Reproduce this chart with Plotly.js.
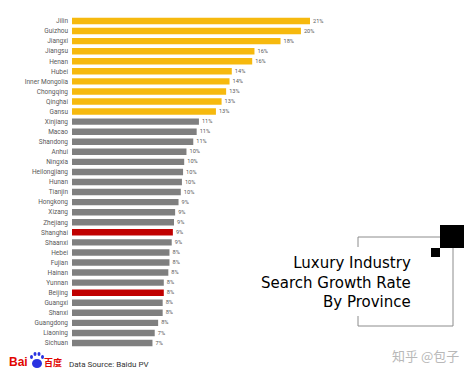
<!DOCTYPE html>
<html>
<head>
<meta charset="utf-8">
<script src="https://cdn.plot.ly/plotly-3.0.1.min.js"></script>
<style>html,body{margin:0;padding:0;background:#fff;}#chart{width:474px;height:374px;}</style>
</head>
<body>
<div id="chart"></div>
<script>
const provinces = ["Jilin","Guizhou","Jiangxi","Jiangsu","Henan","Hubei","Inner Mongolia","Chongqing","Qinghai","Gansu",
  "Xinjiang","Macao","Shandong","Anhui","Ningxia","Heilongjiang","Hunan","Tianjin","Hongkong","Xizang","Zhejiang",
  "Shanghai","Shaanxi","Hebei","Fujian","Hainan","Yunnan","Beijing","Guangxi","Shanxi","Guangdong","Liaoning","Sichuan"];
const growth = [21.0,20.2,18.4,16.1,15.9,14.1,13.9,13.6,13.2,12.7,
  11.2,11.0,10.7,10.1,9.9,9.8,9.7,9.6,9.4,9.1,9.0,
  8.9,8.8,8.6,8.6,8.5,8.1,8.1,8.0,8.0,7.6,7.3,7.1];
const labels = ["21%","20%","18%","16%","16%","14%","14%","13%","13%","13%",
  "11%","11%","11%","10%","10%","10%","10%","10%","9%","9%","9%",
  "9%","9%","8%","8%","8%","8%","8%","8%","8%","8%","7%","7%"];
const groups = ["top","top","top","top","top","top","top","top","top","top",
  "mid","mid","mid","mid","mid","mid","mid","mid","mid","mid","mid",
  "hl","mid","mid","mid","mid","mid","hl","mid","mid","mid","mid","mid"];
const titleLines = ["Luxury Industry","Search Growth Rate","By Province"];
const sourceText = "Data Source: Baidu PV";
const watermark = "知乎 @包子";

const colorMap = {top:"#F6B90E", mid:"#7F7F7F", hl:"#C00000"};

// plot area in pixels
const L = 72, R = 412, T = 16, B = 348;
const W = 474, H = 374;
const px = x => (x - L) / (R - L);
const py = y => (B - y) / (B - T);

const trace = {
  type: "bar",
  orientation: "h",
  y: provinces,
  x: growth,
  text: labels,
  textposition: "outside",
  cliponaxis: false,
  textfont: {family: "Roboto, sans-serif", size: 7, color: "#595959"},
  marker: {color: groups.map(g => colorMap[g])},
  hoverinfo: "skip"
};

const LC = "#8c8c8c";
const shapes = [
  // frame
  {type:"line", xref:"paper", yref:"paper", x0:px(358), x1:px(358), y0:py(237), y1:py(247), line:{color:LC, width:1}},
  {type:"line", xref:"paper", yref:"paper", x0:px(358), x1:px(358), y0:py(316), y1:py(326), line:{color:LC, width:1}},
  {type:"line", xref:"paper", yref:"paper", x0:px(358), x1:px(453), y0:py(326), y1:py(326), line:{color:LC, width:1}},
  {type:"line", xref:"paper", yref:"paper", x0:px(453), x1:px(453), y0:py(248), y1:py(326), line:{color:LC, width:1}},
  {type:"line", xref:"paper", yref:"paper", x0:px(358), x1:px(440), y0:py(237), y1:py(237), line:{color:LC, width:1}},
  // squares
  {type:"rect", xref:"paper", yref:"paper", x0:px(440), x1:px(464), y0:py(225), y1:py(248), fillcolor:"#000", line:{width:0}},
  {type:"rect", xref:"paper", yref:"paper", x0:px(431), x1:px(440), y0:py(248), y1:py(257), fillcolor:"#000", line:{width:0}},
  // baidu paw
  {type:"circle", xref:"paper", yref:"paper", x0:px(32), x1:px(42), y0:py(359), y1:py(368), fillcolor:"#2932E1", line:{width:0}},
  {type:"circle", xref:"paper", yref:"paper", x0:px(30), x1:px(33), y0:py(355), y1:py(359), fillcolor:"#2932E1", line:{width:0}},
  {type:"circle", xref:"paper", yref:"paper", x0:px(33.5), x1:px(36.5), y0:py(352), y1:py(356), fillcolor:"#2932E1", line:{width:0}},
  {type:"circle", xref:"paper", yref:"paper", x0:px(37.5), x1:px(40.5), y0:py(352), y1:py(356), fillcolor:"#2932E1", line:{width:0}},
  {type:"circle", xref:"paper", yref:"paper", x0:px(41), x1:px(44), y0:py(355), y1:py(359), fillcolor:"#2932E1", line:{width:0}}
];

const annotations = [
  {xref:"paper", yref:"paper", x:px(413), y:py(282), xanchor:"right", yanchor:"middle", align:"right", showarrow:false,
   text: titleLines.join("<br>"), font:{family:"DejaVu Sans, sans-serif", size:15, color:"#000"}},
  {xref:"paper", yref:"paper", x:px(7), y:py(362), xanchor:"left", yanchor:"middle", showarrow:false,
   text:"<b>Bai</b>", font:{family:"Liberation Sans, sans-serif", size:12, color:"#E10601"}},
  {xref:"paper", yref:"paper", x:px(42), y:py(363), xanchor:"left", yanchor:"middle", showarrow:false,
   text:"<b>百度</b>", font:{family:"Noto Sans CJK SC, sans-serif", size:9, color:"#E10601"}},
  {xref:"paper", yref:"paper", x:px(67), y:py(364), xanchor:"left", yanchor:"middle", showarrow:false,
   text: sourceText, font:{family:"Roboto, sans-serif", size:8, color:"#333"}},
  {xref:"paper", yref:"paper", x:px(425), y:py(355), xanchor:"center", yanchor:"middle", showarrow:false,
   text: watermark, font:{family:"Noto Sans CJK SC, sans-serif", size:13, color:"#b8b8b8"}}
];

const layout = {
  width: W, height: H,
  margin: {l: L, r: W - R, t: T, b: H - B, pad: 0},
  paper_bgcolor: "#fff", plot_bgcolor: "#fff",
  showlegend: false,
  bargap: 0.36,
  xaxis: {range: [0, 30], visible: false, fixedrange: true},
  yaxis: {autorange: "reversed", showgrid: false, zeroline: false, showline: false, ticks: "",
          tickfont: {family: "Roboto, sans-serif", size: 6.5, color: "#595959"}, ticklabelstandoff: 3, fixedrange: true},
  shapes: shapes,
  annotations: annotations
};

Plotly.newPlot("chart", [trace], layout, {displayModeBar: false, staticPlot: true});
</script>
</body>
</html>
